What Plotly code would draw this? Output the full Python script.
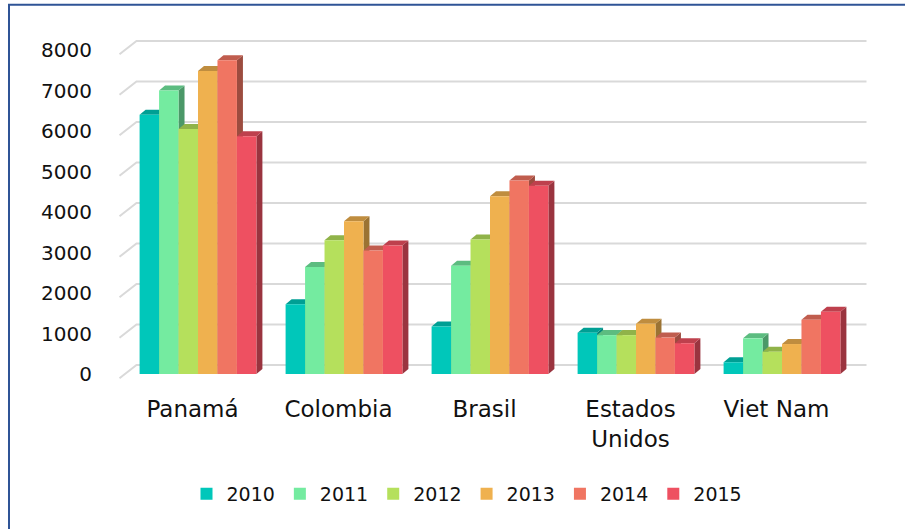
import plotly.graph_objects as go

# ---- data ----
categories = ["Panamá", "Colombia", "Brasil", "Estados Unidos", "Viet Nam"]
years = ["2010", "2011", "2012", "2013", "2014", "2015"]
v2010 = [6400, 1720, 1170, 1020, 290]
v2011 = [7000, 2640, 2670, 960, 880]
v2012 = [6050, 3300, 3320, 960, 550]
v2013 = [7480, 3770, 4390, 1240, 740]
v2014 = [7750, 3050, 4780, 900, 1340]
v2015 = [5870, 3170, 4650, 760, 1535]
series = [v2010, v2011, v2012, v2013, v2014, v2015]
y_ticks = [0, 1000, 2000, 3000, 4000, 5000, 6000, 7000, 8000]

# ---- style / geometry ----
colors = ["#00C7BA", "#74EBA0", "#B5E05C", "#EFB14F", "#F07562", "#EE5061"]
W, H = 905, 529
ML, MR, MT, MB = 125, 50, 50, 155
PW, PH = W - ML - MR, H - MT - MB
YMAX = 8000
BARGAP = 0.2
FONT = "DejaVu Sans"

def shade(hexc, f):
    h = hexc.lstrip("#")
    r, g, b = (int(h[i:i + 2], 16) for i in (0, 2, 4))
    return "#%02X%02X%02X" % (int(r * f), int(g * f), int(b * f))

n = len(series)
xs = list(range(len(categories)))
bw = (1 - BARGAP) / n
# depth of each bar (pixels) -> data units
dx_bar = 6 / (PW / len(categories))
dy_bar = 5 / (PH / YMAX)

fig = go.Figure()
for i, (yr, vals) in enumerate(zip(years, series)):
    fig.add_trace(go.Bar(x=xs, y=vals, name=yr, marker=dict(color=colors[i], line=dict(width=0))))

shapes = []
def px2paper(px, py):
    return (px - ML) / PW, (H - MB - py) / PH

# gridlines in perspective (front plane -> back wall)
for v in y_ticks:
    ybase = H - MB - v / YMAX * PH
    p1 = px2paper(ML - 5.5, ybase + 4.3)
    p2 = px2paper(ML + 11.5, ybase - 9)
    p3 = px2paper(ML + PW + 11.5, ybase - 9)
    shapes.append(dict(type="path", xref="paper", yref="paper", layer="below",
                       path="M%.5f,%.5f L%.5f,%.5f L%.5f,%.5f" % (p1 + p2 + p3),
                       line=dict(color="#D9D9D9", width=2)))

# 3D side and top faces, drawn below the front faces
for c in xs:
    for i, vals in enumerate(series):
        v = vals[c]
        xl = c - (1 - BARGAP) / 2 + i * bw
        xr = xl + bw
        side = "M%f,%f L%f,%f L%f,%f L%f,%f Z" % (xr, 0, xr + dx_bar, dy_bar, xr + dx_bar, v + dy_bar, xr, v)
        top = "M%f,%f L%f,%f L%f,%f L%f,%f Z" % (xl, v, xl + dx_bar, v + dy_bar, xr + dx_bar, v + dy_bar, xr, v)
        shapes.append(dict(type="path", xref="x", yref="y", layer="below", path=side,
                           fillcolor=shade(colors[i], 0.65), line=dict(width=0)))
        shapes.append(dict(type="path", xref="x", yref="y", layer="below", path=top,
                           fillcolor=shade(colors[i], 0.8), line=dict(width=0)))

# outer chart frame
fx0, fy1 = px2paper(9, 4.7)
shapes.append(dict(type="rect", xref="paper", yref="paper", x0=fx0, x1=3, y0=-3, y1=fy1,
                   line=dict(color="#2F5496", width=2), fillcolor="rgba(0,0,0,0)", layer="above"))

ticktext = [c.replace(" ", "<br>") if c == "Estados Unidos" else c for c in categories]
shift = 5.5 / (PW / len(categories))

fig.update_layout(
    width=W, height=H,
    margin=dict(l=ML, r=MR, t=MT, b=MB),
    barmode="group", bargap=BARGAP, bargroupgap=0,
    paper_bgcolor="white", plot_bgcolor="rgba(0,0,0,0)",
    font=dict(family=FONT, size=20, color="#111111"),
    shapes=shapes,
    xaxis=dict(range=[-0.5, len(categories) - 0.5], tickvals=[x - shift for x in xs], ticktext=ticktext,
               showgrid=False, zeroline=False, showline=False, ticks="outside", ticklen=14,
               tickcolor="rgba(0,0,0,0)", tickfont=dict(size=23)),
    yaxis=dict(range=[0, YMAX], tickvals=y_ticks, showgrid=False, zeroline=False, showline=False,
               ticks="outside", ticklen=28, tickcolor="rgba(0,0,0,0)", tickfont=dict(size=20)),
    legend=dict(orientation="h", x=(467 - ML) / PW, xanchor="center",
                y=(H - MB - 494) / PH, yanchor="middle", font=dict(size=19),
                itemwidth=30, traceorder="normal"),
    showlegend=True,
)

fig.write_html("out.html", config={"displayModeBar": False},
               post_script="document.body.style.margin='0';document.body.style.overflow='hidden';")
